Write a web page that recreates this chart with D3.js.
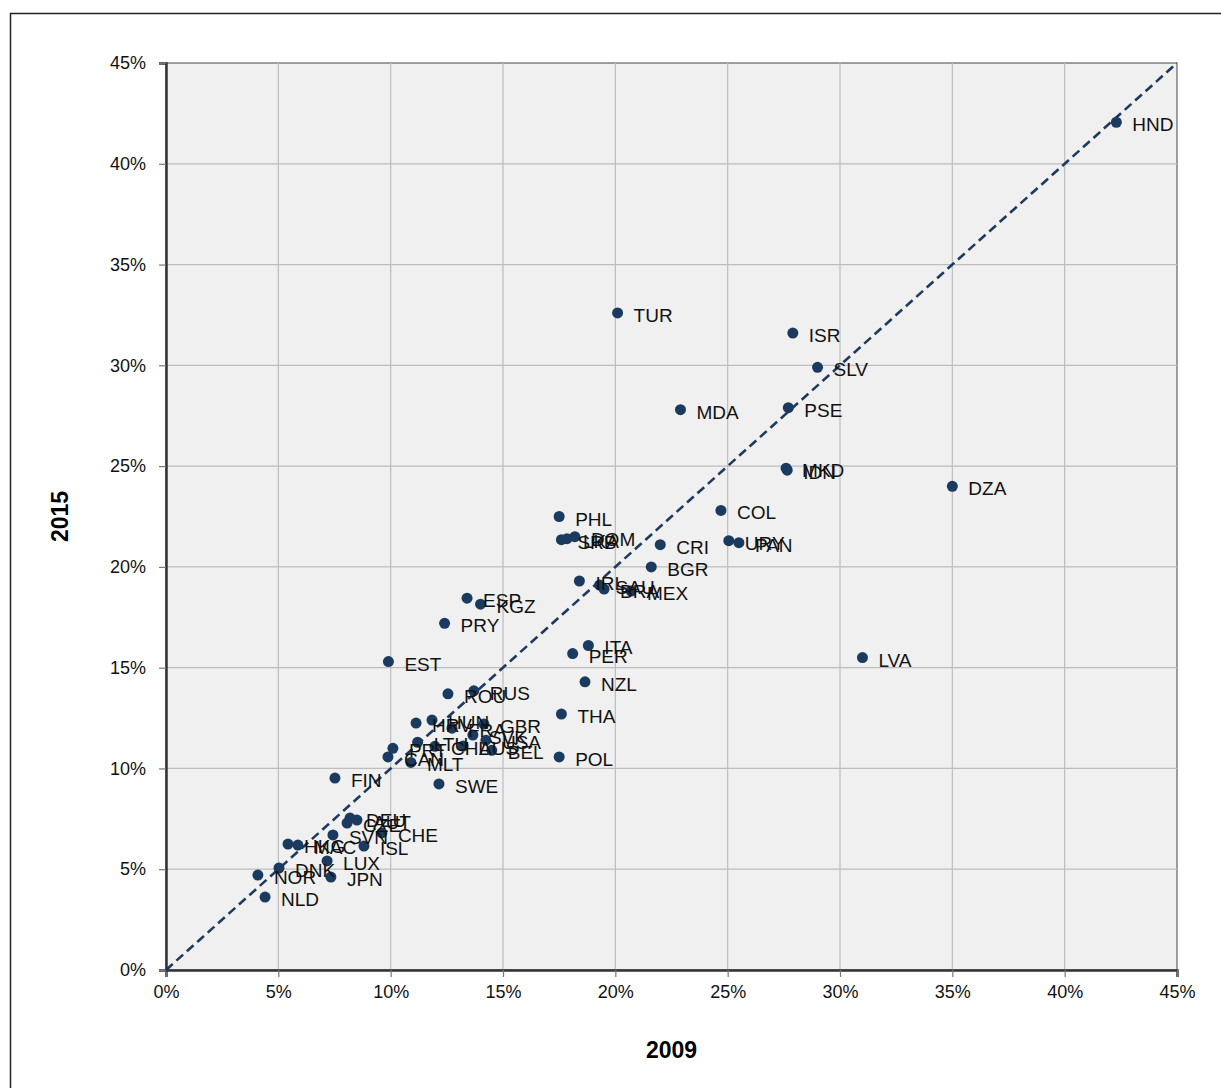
<!DOCTYPE html>
<html><head><meta charset="utf-8">
<script src="https://cdn.jsdelivr.net/npm/d3@7"></script>
<style>body{margin:0;background:#fff;}svg{display:block;}</style>
</head><body>
<script>
const codes = ["HND","TUR","ISR","SLV","PSE","MDA","MKD","IDN","DZA","COL","PHL","SRB","LKA","DOM","CRI","URY","PAN","BGR","IRL","SAU","BRA","MEX","ESP","KGZ","PRY","ITA","PER","EST","LVA","NZL","ROU","RUS","THA","HRV","HUN","FRA","GBR","SVK","USA","AUS","BEL","LTU","PRT","CHL","CAN","MLT","FIN","SWE","POL","DEU","AUT","CZE","SVN","CHE","ISL","HKG","MAC","DNK","LUX","JPN","NOR","NLD"];
const v2009 = [42.3,20.1,27.9,29.0,27.7,22.9,27.6,27.65,35.0,24.7,17.5,17.6,17.85,18.2,22.0,25.05,25.5,21.6,18.4,19.3,19.5,20.7,13.4,14.0,12.4,18.8,18.1,9.9,31.0,18.65,12.55,13.7,17.6,11.13,11.84,12.73,14.15,13.66,14.24,13.22,14.5,11.2,10.1,11.97,9.88,10.9,7.52,12.15,17.5,8.19,8.5,8.06,7.43,9.61,8.81,5.43,5.87,5.03,7.17,7.34,4.09,4.41];
const v2015 = [42.06,32.6,31.6,29.9,27.9,27.8,24.9,24.8,24.0,22.8,22.5,21.35,21.4,21.5,21.1,21.3,21.2,20.0,19.3,19.1,18.9,18.8,18.45,18.15,17.2,16.1,15.7,15.3,15.5,14.3,13.7,13.85,12.7,12.25,12.4,12.0,12.2,11.66,11.4,11.11,10.9,11.3,11.0,11.1,10.57,10.3,9.52,9.23,10.57,7.54,7.44,7.29,6.7,6.8,6.15,6.25,6.2,5.06,5.41,4.61,4.71,3.62];
const ticks = [0,5,10,15,20,25,30,35,40,45];
const xTitle = "2009", yTitle = "2015";

const W = 1221, H = 1088;
const L = 166, R = 1177, T = 63, B = 970;
const svg = d3.select("body").append("svg").attr("width", W).attr("height", H);
svg.append("rect").attr("x",10.5).attr("y",13.5).attr("width",1240).attr("height",1100)
  .attr("fill","#fff").attr("stroke","#222").attr("stroke-width",1.5);

const x = d3.scaleLinear().domain([0,45]).range([L,R]);
const y = d3.scaleLinear().domain([0,45]).range([B,T]);

svg.append("rect").attr("x",L).attr("y",T).attr("width",R-L).attr("height",B-T)
  .attr("fill","#f0f0f0").attr("stroke","#444").attr("stroke-width",1);

const g = svg.append("g");
g.selectAll(".vg").data(ticks.slice(1,-1)).join("line")
  .attr("x1",d=>x(d)).attr("x2",d=>x(d)).attr("y1",T).attr("y2",B)
  .attr("stroke","#bdbdbd").attr("stroke-width",1.2);
g.selectAll(".hg").data(ticks.slice(1,-1)).join("line")
  .attr("y1",d=>y(d)).attr("y2",d=>y(d)).attr("x1",L).attr("x2",R)
  .attr("stroke","#bdbdbd").attr("stroke-width",1.2);

const fmt = d => d + "%";
const xAxis = svg.append("g").attr("transform",`translate(0,${B})`)
  .call(d3.axisBottom(x).tickValues(ticks).tickFormat(fmt).tickSizeOuter(0).tickSize(7).tickPadding(8));
const yAxis = svg.append("g").attr("transform",`translate(${L},0)`)
  .call(d3.axisLeft(y).tickValues(ticks).tickFormat(fmt).tickSizeOuter(0).tickSize(7).tickPadding(13));
[xAxis,yAxis].forEach(a=>{
  a.select(".domain").attr("stroke","#333").attr("stroke-width",2.5);
  a.selectAll(".tick line").attr("stroke","#777").attr("stroke-width",1.2);
  a.selectAll("text").attr("font-family","Liberation Sans, Arial, sans-serif").attr("font-size",18).attr("fill","#111");
});

svg.append("line").attr("x1",x(0)).attr("y1",y(0)).attr("x2",x(45)).attr("y2",y(45))
  .attr("stroke","#1f3a5f").attr("stroke-width",2.6).attr("stroke-dasharray","9,5");

const data = codes.map((c,i)=>({c, a:v2009[i], b:v2015[i]}));
svg.append("g").selectAll("circle").data(data).join("circle")
  .attr("cx",d=>x(d.a)).attr("cy",d=>y(d.b)).attr("r",5.5).attr("fill","#1b3a60");
svg.append("g").selectAll("text").data(data).join("text")
  .attr("x",d=>x(d.a)+16).attr("y",d=>y(d.b)+9)
  .attr("font-family","Liberation Sans, Arial, sans-serif").attr("font-size",19).attr("fill","#111")
  .text(d=>d.c);

svg.append("text").attr("x",(L+R)/2).attr("y",1058).attr("text-anchor","middle")
  .attr("font-family","Liberation Sans, Arial, sans-serif").attr("font-weight","bold").attr("font-size",23)
  .text(xTitle);
svg.append("text").attr("transform",`translate(68,${(T+B)/2}) rotate(-90)`).attr("text-anchor","middle")
  .attr("font-family","Liberation Sans, Arial, sans-serif").attr("font-weight","bold").attr("font-size",23)
  .text(yTitle);
</script>
</body></html>
